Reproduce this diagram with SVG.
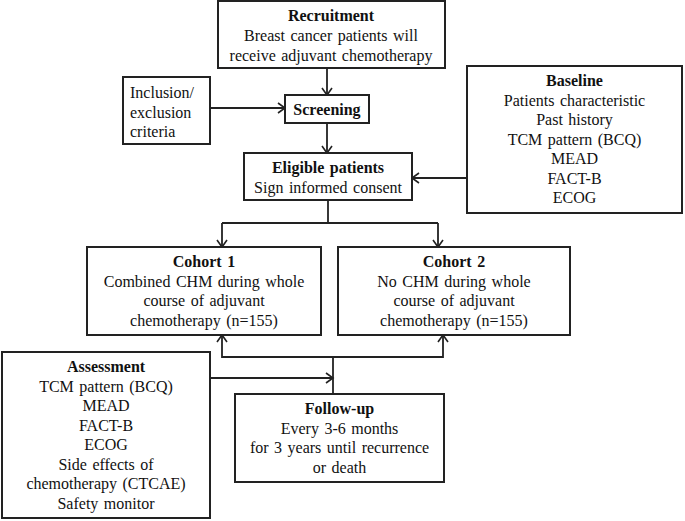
<svg xmlns="http://www.w3.org/2000/svg" width="685" height="521" viewBox="0 0 685 521" font-family="'Liberation Serif', 'Times New Roman', 'DejaVu Serif', serif">
<defs>
<marker id="arr" markerUnits="userSpaceOnUse" markerWidth="14" markerHeight="14" viewBox="0 0 14 14" refX="12" refY="7" orient="auto">
<path d="M5,2 L12,7 L5,12" fill="none" stroke="#222" stroke-width="1.6"/>
</marker>
<style>
.box{fill:#fff;stroke:#222;stroke-width:2}
text{font-family:'Liberation Serif','Times New Roman','DejaVu Serif',serif;font-size:16px;fill:#111;word-spacing:1.5px}
.c{text-anchor:middle}
.b{font-weight:bold}
.conn path{fill:none;stroke:#222;stroke-width:1.8}
</style>
</defs>
<rect width="685" height="521" fill="#fff"/>
<g class="conn" id="connectors">
<path d="M327,68 V95" marker-end="url(#arr)"/>
<path d="M210,108 H285" marker-end="url(#arr)"/>
<path d="M327,123 V153" marker-end="url(#arr)"/>
<path d="M467,178 H412" marker-end="url(#arr)"/>
<path d="M328,200 V223"/>
<path d="M222,223 H438"/>
<path d="M222,223 V247" marker-end="url(#arr)"/>
<path d="M438,223 V247" marker-end="url(#arr)"/>
<path d="M333,357 H222 V335" marker-end="url(#arr)"/>
<path d="M333,357 H443 V335" marker-end="url(#arr)"/>
<path d="M333,357 V394"/>
<path d="M210,378 H333" marker-end="url(#arr)"/>
</g>
<g id="recruitment">
<rect class="box" x="218" y="1" width="227" height="67"/>
<text class="c b" x="331" y="21">Recruitment</text>
<text class="c" x="331" y="41">Breast cancer patients will</text>
<text class="c" x="331" y="61">receive adjuvant chemotherapy</text>
</g>
<g id="inclusion">
<rect class="box" x="123" y="77" width="87" height="67"/>
<text x="130" y="98">Inclusion/</text>
<text x="130" y="117.5">exclusion</text>
<text x="130" y="137">criteria</text>
</g>
<g id="screening">
<rect class="box" x="285" y="95" width="84" height="28"/>
<text class="c b" x="327" y="115">Screening</text>
</g>
<g id="eligible">
<rect class="box" x="244" y="153" width="168" height="47"/>
<text class="c b" x="328" y="173">Eligible patients</text>
<text class="c" x="328" y="193">Sign informed consent</text>
</g>
<g id="baseline">
<rect class="box" x="467" y="66" width="215" height="147"/>
<text class="c b" x="574.5" y="86">Baseline</text>
<text class="c" x="574.5" y="105.5">Patients characteristic</text>
<text class="c" x="574.5" y="125">Past history</text>
<text class="c" x="574.5" y="144.5">TCM pattern (BCQ)</text>
<text class="c" x="574.5" y="164">MEAD</text>
<text class="c" x="574.5" y="183.5">FACT-B</text>
<text class="c" x="574.5" y="203">ECOG</text>
</g>
<g id="cohort1">
<rect class="box" x="87" y="247" width="234" height="88"/>
<text class="c b" x="204" y="267">Cohort 1</text>
<text class="c" x="204" y="286.5">Combined CHM during whole</text>
<text class="c" x="204" y="306">course of adjuvant</text>
<text class="c" x="204" y="325.5">chemotherapy (n=155)</text>
</g>
<g id="cohort2">
<rect class="box" x="338" y="247" width="232" height="88"/>
<text class="c b" x="454" y="267">Cohort 2</text>
<text class="c" x="454" y="286.5">No CHM during whole</text>
<text class="c" x="454" y="306">course of adjuvant</text>
<text class="c" x="454" y="325.5">chemotherapy (n=155)</text>
</g>
<g id="assessment">
<rect class="box" x="2" y="352" width="208" height="166"/>
<text class="c b" x="106" y="372">Assessment</text>
<text class="c" x="106" y="391.5">TCM pattern (BCQ)</text>
<text class="c" x="106" y="411">MEAD</text>
<text class="c" x="106" y="430.5">FACT-B</text>
<text class="c" x="106" y="450">ECOG</text>
<text class="c" x="106" y="469.5">Side effects of</text>
<text class="c" x="106" y="489">chemotherapy (CTCAE)</text>
<text class="c" x="106" y="508.5">Safety monitor</text>
</g>
<g id="followup">
<rect class="box" x="235" y="394" width="209" height="88"/>
<text class="c b" x="339.5" y="414">Follow-up</text>
<text class="c" x="339.5" y="433.5">Every 3-6 months</text>
<text class="c" x="339.5" y="453">for 3 years until recurrence</text>
<text class="c" x="339.5" y="472.5">or death</text>
</g>
</svg>
